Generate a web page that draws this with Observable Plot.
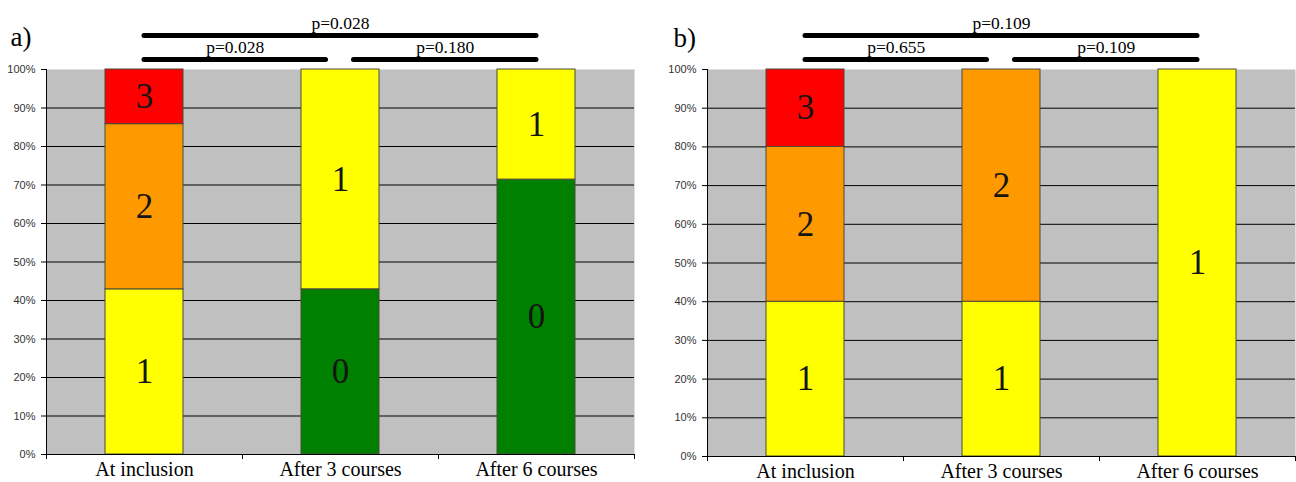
<!DOCTYPE html>
<html><head><meta charset="utf-8">
<script src="https://cdn.jsdelivr.net/npm/d3@7"></script>
<script src="https://cdn.jsdelivr.net/npm/@observablehq/plot@0.6"></script>
<style>
body{margin:0;background:#fff;}
#wrap{display:flex;width:1296px;height:482px;}
#wrap svg{display:block;}
</style></head><body><div id="wrap"></div>
<script>
// ---- data ----
const timepoints = ["At inclusion", "After 3 courses", "After 6 courses"];
const scores = [0, 1, 2, 3];
// percent of patients per score (rows: timepoints, cols: scores 0..3)
const percentA = [[0, 42.9, 42.9, 14.2], [42.9, 57.1, 0, 0], [71.4, 28.6, 0, 0]];
const percentB = [[0, 40, 40, 20], [0, 40, 60, 0], [0, 100, 0, 0]];
const yTicks = [0, 10, 20, 30, 40, 50, 60, 70, 80, 90, 100];
const comparisonsA = [
  {from: "At inclusion", to: "After 6 courses", p: "p=0.028", tier: 2},
  {from: "At inclusion", to: "After 3 courses", p: "p=0.028", tier: 1},
  {from: "After 3 courses", to: "After 6 courses", p: "p=0.180", tier: 1}
];
const comparisonsB = [
  {from: "At inclusion", to: "After 6 courses", p: "p=0.109", tier: 2},
  {from: "At inclusion", to: "After 3 courses", p: "p=0.655", tier: 1},
  {from: "After 3 courses", to: "After 6 courses", p: "p=0.109", tier: 1}
];
const panelLabels = ["a)", "b)"];
const scoreColors = ["#008000", "#FFFF00", "#FF9900", "#FF0000"];

const SERIF = "'Liberation Serif', 'Times New Roman', serif";
const SANS = "'Liberation Sans', Arial, sans-serif";

function panel(label, percents, comparisons, cfg) {
  const W = 648, H = 482, marginTop = 69;
  const {marginLeft, marginRight, marginBottom, labelDx, labelDy} = cfg;
  const step = (W - marginLeft - marginRight) / timepoints.length;
  const rows = [];
  timepoints.forEach((t, i) => scores.forEach((s, j) => {
    if (percents[i][j] > 0) rows.push({time: t, score: s, pct: percents[i][j]});
  }));
  const idx = t => timepoints.indexOf(t);
  const mid = 1;
  const bracketMarks = comparisons.flatMap(c => {
    const offFrom = idx(c.from) === mid ? 13.5 : 0;
    const offTo = idx(c.to) === mid ? -14.5 : 0;
    const dy = c.tier === 2 ? -34 : -10;
    return [
      Plot.ruleY([c], {y: () => 100, x1: "from", x2: "to",
        insetLeft: step / 2 + offFrom, insetRight: step / 2 - offTo, dy,
        stroke: "#000", strokeWidth: 5, strokeLinecap: "round"}),
      Plot.text([c], {x: "from", y: () => 100, text: "p",
        dx: (idx(c.to) - idx(c.from)) * step / 2 + (offFrom + offTo) / 2, dy: dy - 12.5,
        fontFamily: SERIF, fontSize: 17.5, fill: "#000"})
    ];
  });
  return Plot.plot({
    width: W, height: H, marginTop, marginLeft, marginRight, marginBottom,
    style: {background: "transparent", overflow: "visible"},
    x: {domain: timepoints, padding: 0},
    y: {domain: [0, 100]},
    color: {type: "ordinal", domain: scores, range: scoreColors},
    marks: [
      Plot.frame({fill: "#C0C0C0", stroke: "none"}),
      Plot.ruleY(yTicks.slice(1, -1), {stroke: "#000", strokeWidth: 1}),
      Plot.barY(rows, Plot.stackY({x: "time", y: "pct", fill: "score", z: "score",
        insetLeft: 59, insetRight: 59, stroke: "#4a4a3a", strokeWidth: 1})),
      Plot.text(rows, Plot.stackY({x: "time", y: "pct", z: "score", text: d => String(d.score),
        fontFamily: SERIF, fontSize: 35, fill: "#151515"})),
      // axis lines
      Plot.ruleY([0], {stroke: "#000", strokeWidth: 1}),
      Plot.ruleX([timepoints[0]], {x: d => d, dx: -step / 2, stroke: "#000", strokeWidth: 1}),
      // category boundary ticks on the x axis
      Plot.ruleX(timepoints, {x: d => d, y1: () => 0, y2: () => 0, dx: -step / 2, insetBottom: -5, stroke: "#000"}),
      Plot.ruleX([timepoints[timepoints.length - 1]], {x: d => d, y1: () => 0, y2: () => 0, dx: step / 2, insetBottom: -5, stroke: "#000"}),
      Plot.axisY(yTicks, {tickFormat: d => d + "%", tickSize: 5, tickPadding: 6, fontSize: 11,
        fontFamily: SANS, fill: "#333", stroke: "#000", label: null}),
      Plot.axisX({tickSize: 0, tickPadding: 7, fontSize: 20, fontFamily: SERIF, fill: "#000", label: null}),
      ...bracketMarks,
      Plot.text([label], {text: d => d, frameAnchor: "top-left", textAnchor: "start", lineAnchor: "middle",
        dx: labelDx, dy: labelDy, fontFamily: SERIF, fontSize: 27, fill: "#000"})
    ]
  });
}

const wrap = document.getElementById("wrap");
wrap.append(panel(panelLabels[0], percentA, comparisonsA,
  {marginLeft: 46, marginRight: 14, marginBottom: 28, labelDx: -36, labelDy: -32}));
wrap.append(panel(panelLabels[1], percentB, comparisonsB,
  {marginLeft: 59, marginRight: 1, marginBottom: 26, labelDx: -34, labelDy: -31}));
</script></body></html>
